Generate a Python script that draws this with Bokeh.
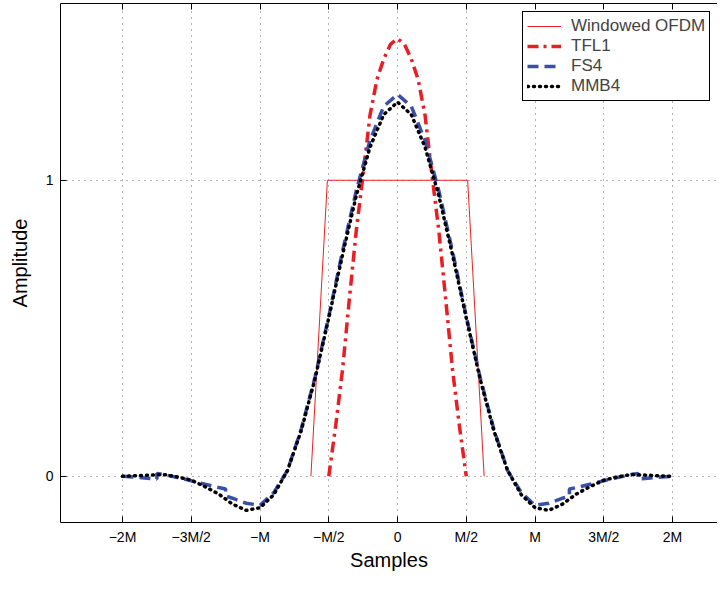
from bokeh.plotting import figure
from bokeh.models import Range1d, FixedTicker, LinearAxis, Legend, LegendItem
from bokeh.embed import file_html
from bokeh.resources import INLINE

# ---- data (x in units of M samples) ----
tick_pos = [-2.0, -1.5, -1.0, -0.5, 0.0, 0.5, 1.0, 1.5, 2.0]
tick_lbl = ["\u22122M", "\u22123M/2", "\u2212M", "\u2212M/2", "0", "M/2", "M", "3M/2", "2M"]
ytick_pos = [0, 1]

ofdm_x = [-0.63, -0.51, 0.51, 0.63]
ofdm_y = [0.0, 1.0, 1.0, 0.0]

tfl1_x = [-0.5, -0.45, -0.4, -0.35, -0.3, -0.25, -0.2, -0.15, -0.1, -0.05, 0.0,
          0.05, 0.1, 0.15, 0.2, 0.25, 0.3, 0.35, 0.4, 0.45, 0.5]
tfl1_y = [0.0, 0.17, 0.36, 0.60, 0.83, 1.02, 1.22, 1.34, 1.41, 1.46, 1.478,
          1.46, 1.41, 1.34, 1.22, 1.02, 0.83, 0.60, 0.36, 0.17, 0.0]

fs4_x = [-2.0, -1.9, -1.8, -1.75, -1.75, -1.7, -1.6, -1.5, -1.4, -1.3, -1.25, -1.25,
         -1.2, -1.1, -1.0, -0.9, -0.8, -0.7, -0.6, -0.5, -0.4, -0.3, -0.2, -0.1, 0.0,
         0.1, 0.2, 0.3, 0.4, 0.5, 0.6, 0.7, 0.8, 0.9, 1.0, 1.1, 1.2, 1.25, 1.25,
         1.3, 1.4, 1.5, 1.6, 1.7, 1.75, 1.75, 1.8, 1.9, 2.0]
fs4_y = [0.0, -0.003, -0.007, -0.009, 0.010, 0.006, -0.004, -0.015, -0.027, -0.038, -0.043, -0.066,
         -0.074, -0.091, -0.098, -0.055, 0.02, 0.16, 0.335, 0.54, 0.76, 0.965, 1.135, 1.25, 1.29,
         1.25, 1.135, 0.965, 0.76, 0.54, 0.335, 0.16, 0.02, -0.055, -0.098, -0.091, -0.074, -0.066, -0.043,
         -0.038, -0.027, -0.015, -0.004, 0.006, 0.010, -0.009, -0.007, -0.003, 0.0]

mmb4_x = [-2.0, -1.9, -1.8, -1.7, -1.6, -1.5, -1.4, -1.3, -1.2, -1.1, -1.0,
          -0.9, -0.8, -0.7, -0.6, -0.5, -0.4, -0.3, -0.2, -0.1, 0.0,
          0.1, 0.2, 0.3, 0.4, 0.5, 0.6, 0.7, 0.8, 0.9, 1.0,
          1.1, 1.2, 1.3, 1.4, 1.5, 1.6, 1.7, 1.8, 1.9, 2.0]
mmb4_y = [0.0, 0.002, 0.004, 0.006, -0.002, -0.013, -0.035, -0.06, -0.094, -0.115, -0.106,
          -0.062, 0.02, 0.155, 0.33, 0.535, 0.748, 0.948, 1.112, 1.222, 1.264,
          1.222, 1.112, 0.948, 0.748, 0.535, 0.33, 0.155, 0.02, -0.062, -0.106,
          -0.115, -0.094, -0.06, -0.035, -0.013, -0.002, 0.006, 0.004, 0.002, 0.0]

FONT = "Liberation Sans"

p = figure(width=717, height=573, output_backend="svg", toolbar_location=None,
           x_range=Range1d(-2.451, 2.327), y_range=Range1d(-0.156, 1.597),
           min_border_left=60, min_border_right=0, min_border_top=3, min_border_bottom=48)
p.outline_line_color = None
p.background_fill_color = "white"

xt = FixedTicker(ticks=tick_pos)
yt = FixedTicker(ticks=ytick_pos)
overrides = {t: l for t, l in zip(tick_pos, tick_lbl)}

for ax in p.xaxis:
    ax.ticker = xt
    ax.major_label_overrides = overrides
for ax in p.yaxis:
    ax.ticker = yt

for ax in list(p.xaxis) + list(p.yaxis):
    ax.major_tick_in = 6
    ax.major_tick_out = 0
    ax.minor_tick_line_color = None
    ax.axis_line_color = "black"
    ax.major_tick_line_color = "black"
    ax.major_label_text_font = FONT
    ax.major_label_text_font_size = "14px"
    ax.major_label_text_color = "black"
    ax.axis_label_text_font = FONT
    ax.axis_label_text_font_size = "20px"
    ax.axis_label_text_font_style = "normal"
    ax.axis_label_text_color = "black"

p.xaxis.axis_label = "Samples"
p.yaxis.axis_label = "Amplitude"
p.xaxis.major_label_standoff = 6
p.xaxis.axis_label_standoff = 1
p.yaxis.major_label_standoff = 7
p.yaxis.axis_label_standoff = 12

top = LinearAxis(ticker=xt, major_label_text_font_size="0px", major_tick_in=6, major_tick_out=0,
                 major_label_standoff=0, minor_tick_line_color=None, axis_line_color="black")
p.add_layout(top, "above")

p.xgrid.ticker = xt
p.ygrid.ticker = yt
for g in (p.xgrid, p.ygrid):
    g.grid_line_color = "#666666"
    g.grid_line_dash = "1 5"
    g.grid_line_width = 1

r_ofdm = p.line(ofdm_x, ofdm_y, line_color="#f02020", line_width=1)
r_tfl = p.line(tfl1_x, tfl1_y, line_color="#ea1c24", line_width=3.5, line_dash="11 5 3 5")
r_fs4 = p.line(fs4_x, fs4_y, line_color="#3a50a8", line_width=3.5, line_dash="11 6")
r_mmb = p.line(mmb4_x, mmb4_y, line_color="black", line_width=3.5, line_dash="1 5", line_cap="round")

legend = Legend(items=[LegendItem(label="Windowed OFDM", renderers=[r_ofdm]),
                       LegendItem(label="TFL1", renderers=[r_tfl]),
                       LegendItem(label="FS4", renderers=[r_fs4]),
                       LegendItem(label="MMB4", renderers=[r_mmb])],
                location=(462, 421), margin=0, padding=4, spacing=0,
                label_text_font=FONT, label_text_font_size="17px", label_height=20,
                glyph_height=20, glyph_width=34, label_standoff=10,
                border_line_color="black", border_line_width=1, border_line_alpha=1,
                background_fill_alpha=1)
p.add_layout(legend, "center")

open("out.html", "w").write(file_html(p, INLINE))
